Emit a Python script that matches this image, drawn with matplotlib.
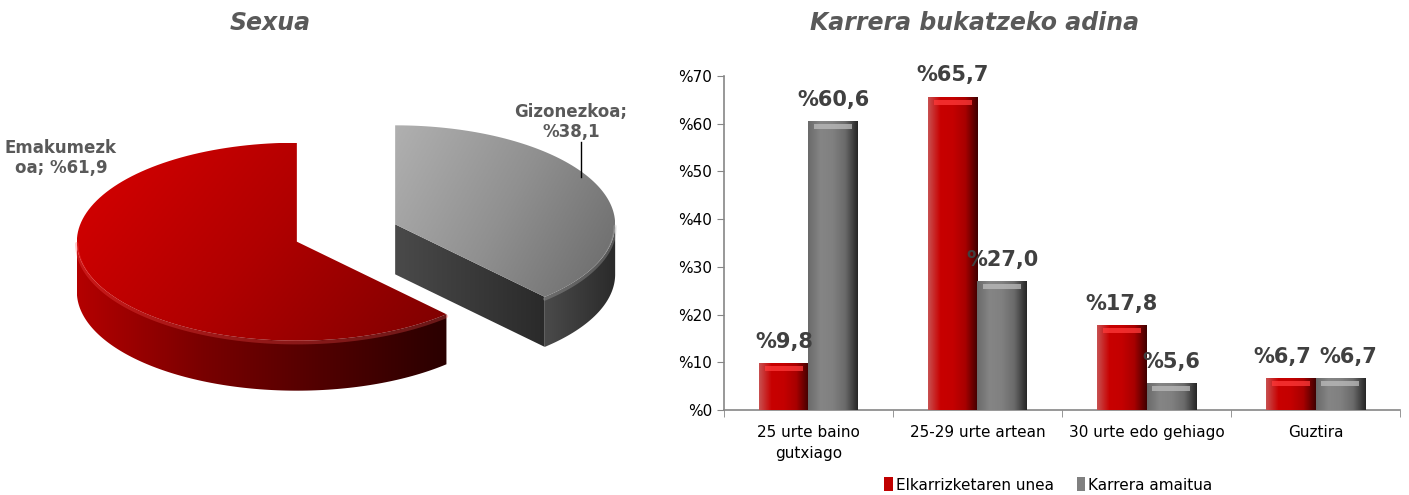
import numpy as np
import matplotlib
matplotlib.use("Agg")
import matplotlib.pyplot as plt
from matplotlib.patches import Polygon, Rectangle
from matplotlib.colors import LinearSegmentedColormap
import textwrap

# ---------------- data ----------------
pie_names = ["Emakumezkoa", "Gizonezkoa"]
pie_values = [61.9, 38.1]
pie_wrap = [9, 11]

bar_categories = ["25 urte baino\ngutxiago", "25-29 urte artean", "30 urte edo gehiago", "Guztira"]
series_names = ["Elkarrizketaren unea", "Karrera amaitua"]
series_interview = [9.8, 65.7, 17.8, 6.7]
series_finished = [60.6, 27.0, 5.6, 6.7]
yticks = [0, 10, 20, 30, 40, 50, 60, 70]

TITLE_COL = "#595959"
LABEL_COL = "#404040"

W, H = 1409, 495
fig = plt.figure(figsize=(W / 100, H / 100), dpi=100)
plt.rcParams['font.family'] = ['DejaVu Sans']


def fmt(v):
    return "%" + f"{v:.1f}".replace(".", ",")


# ---------------- pie (3D look) ----------------
pax = fig.add_axes([0, 0, 650 / W, 1])
pax.set_xlim(0, 650)
pax.set_ylim(H, 0)
pax.axis("off")

base_cx, base_cy = 346, 233
rx, ry = 220, 99
depth = 50
explode = 0.24

top_cmaps = [
    LinearSegmentedColormap.from_list("rt", ["#d80000", "#b00000", "#7e0000"]),
    LinearSegmentedColormap.from_list("gt", ["#b0b0b0", "#909090", "#6a6a6a"]),
]
side_cmaps = [
    LinearSegmentedColormap.from_list("rs", ["#b40000", "#7a0000", "#500000", "#2a0000"]),
    LinearSegmentedColormap.from_list("gs", ["#4a4a4a", "#3a3a3a", "#2a2a2a"]),
]


def pt(cx, cy, ang, dy=0):
    a = np.deg2rad(ang)
    return (cx + rx * np.cos(a), cy - ry * np.sin(a) + dy)


def arc(cx, cy, a0, a1, dy=0, n=120):
    angs = np.linspace(a0, a1, n)
    return [pt(cx, cy, a, dy) for a in angs]


def grad_fill(ax, verts, cmap, direction="diag", z=1):
    poly = Polygon(verts, closed=True, facecolor="none", edgecolor="none", zorder=z)
    ax.add_patch(poly)
    vs = np.array(verts)
    x0, x1 = vs[:, 0].min(), vs[:, 0].max()
    y0, y1 = vs[:, 1].min(), vs[:, 1].max()
    gx = np.linspace(0, 1, 256)
    gy = np.linspace(0, 1, 64)
    X, Y = np.meshgrid(gx, gy)
    if direction == "diag":
        G = 0.7 * X + 0.3 * Y
    else:
        G = X
    im = ax.imshow(G, extent=[x0, x1, y1, y0], cmap=cmap, aspect="auto",
                   interpolation="bilinear", zorder=z, vmin=0, vmax=1)
    im.set_clip_path(poly)
    return poly


total = sum(pie_values)
start = 90.0
wedges = []
for i, v in enumerate(pie_values):
    span = 360.0 * v / total
    a0, a1 = start, start + span
    mid = np.deg2rad((a0 + a1) / 2)
    cx = base_cx + explode * rx * np.cos(mid)
    cy = base_cy - explode * ry * np.sin(mid)
    wedges.append((a0, a1, cx, cy))
    start = a1

# draw back (gray) first then front (red)
order = [1, 0]
for i in order:
    a0, a1, cx, cy = wedges[i]
    for k in range(-1, 2):
        lo, hi = max(a0, 180 + 360 * k), min(a1, 360 + 360 * k)
        if hi > lo:
            top = arc(cx, cy, lo, hi)
            bot = arc(cx, cy, hi, lo, dy=depth)
            grad_fill(pax, top + bot, side_cmaps[i], "h", z=2)
    for edge, nang in ((a0, a0 - 90), (a1, a1 + 90)):
        if np.sin(np.deg2rad(nang)) < -1e-6:
            p = pt(cx, cy, edge)
            verts = [(cx, cy), p, (p[0], p[1] + depth), (cx, cy + depth)]
            grad_fill(pax, verts, side_cmaps[i], "h", z=2)
    verts = [(cx, cy)] + arc(cx, cy, a0, a1)
    grad_fill(pax, verts, top_cmaps[i], "diag", z=3)
    for k in range(-1, 2):
        lo, hi = max(a0, 180 + 360 * k), min(a1, 360 + 360 * k)
        if hi > lo:
            rim = np.array(arc(cx, cy, lo, hi, dy=2))
            pax.plot(rim[:, 0], rim[:, 1], color="#ff5050" if i == 0 else "#bdbdbd",
                     lw=2.5, alpha=0.3, zorder=4, solid_capstyle="round")

# pie labels
lab0 = textwrap.fill(f"{pie_names[0]}; {fmt(pie_values[0])}", pie_wrap[0], break_long_words=True)
lab1 = textwrap.fill(f"{pie_names[1]}; {fmt(pie_values[1])}", pie_wrap[1], break_long_words=True)
pax.text(61, 158, lab0, ha="center", va="center", fontsize=12, fontweight="bold",
         color=TITLE_COL, linespacing=1.2, zorder=5)
pax.text(571, 122, lab1, ha="center", va="center", fontsize=12, fontweight="bold",
         color=TITLE_COL, linespacing=1.2, zorder=5)
pax.plot([581, 581], [142, 177], color="black", lw=1, zorder=5)

fig.text(270 / W, 1 - 23 / H, "Sexua", ha="center", va="center", fontsize=17,
         fontweight="bold", fontstyle="italic", color=TITLE_COL)

# ---------------- bars ----------------
bax = fig.add_axes([724 / W, 1 - 410 / H, (1400 - 724) / W, (410 - 76) / H])
x = np.arange(len(bar_categories))
bw = 0.29
bars_r = bax.bar(x - bw / 2, series_interview, bw, color="#c00000", zorder=2,
                 label=series_names[0])
bars_g = bax.bar(x + bw / 2, series_finished, bw, color="#808080", zorder=2,
                 label=series_names[1])

bar_cmaps = [
    LinearSegmentedColormap.from_list("rb", ["#c85050", "#c80000", "#c40000", "#a80000", "#400000"]),
    LinearSegmentedColormap.from_list("gb", ["#6a6a6a", "#858585", "#808080", "#6a6a6a", "#262626"]),
]
top_cols = ["#ff3a3a", "#bcbcbc"]
ppu = (410 - 76) / 70.0
for bars, cmap, tc in ((bars_r, bar_cmaps[0], top_cols[0]), (bars_g, bar_cmaps[1], top_cols[1])):
    for b in bars:
        bx, by = b.get_x(), b.get_y()
        bw_, bh = b.get_width(), b.get_height()
        G = np.tile(np.linspace(0, 1, 128), (8, 1))
        im = bax.imshow(G, extent=[bx, bx + bw_, by, by + bh], cmap=cmap, aspect="auto",
                        interpolation="bilinear", zorder=3, origin="lower")
        im.set_clip_path(b)
        band_top = by + bh - 3 / ppu
        band_h = min(5 / ppu, bh * 0.3)
        bax.add_patch(Rectangle((bx + bw_ * 0.12, band_top - band_h), bw_ * 0.76, band_h,
                                facecolor=tc, edgecolor="none", alpha=0.75, zorder=4))

bax.set_xlim(-0.5, len(bar_categories) - 0.5)
bax.set_ylim(0, 70)

for j, (rv, gv) in enumerate(zip(series_interview, series_finished)):
    close = abs(rv - gv) < 3
    for b, v, side in ((bars_r[j], rv, -1), (bars_g[j], gv, 1)):
        dx = side * 6 if close else 0
        bax.annotate(fmt(v), (b.get_x() + b.get_width() / 2, b.get_height()),
                     xytext=(dx, 8), textcoords="offset points", ha="center", va="bottom",
                     fontsize=15, fontweight="bold", color=LABEL_COL, zorder=5,
                     annotation_clip=False)

for s in ("top", "right"):
    bax.spines[s].set_visible(False)
for s in ("left", "bottom"):
    bax.spines[s].set_color("#868686")
    bax.spines[s].set_linewidth(1.2)
bax.set_yticks(yticks)
bax.set_yticklabels(["%" + str(t) for t in yticks])
bax.set_xticks(x)
bax.set_xticklabels(bar_categories)
for lbl in bax.get_xticklabels():
    lbl.set_linespacing(1.45)
bax.set_xticks(np.arange(-0.5, len(bar_categories)), minor=True)
bax.tick_params(axis="x", which="major", length=0, pad=11, labelsize=11, colors="black")
bax.tick_params(axis="x", which="minor", length=5, color="#868686")
bax.tick_params(axis="y", length=5, color="#868686", labelsize=11, labelcolor="black")

leg = bax.legend(loc="center", bbox_to_anchor=(0.48, -(485 - 410) / (410 - 76)), ncol=2,
                 frameon=False, fontsize=11, handlelength=0.55, handleheight=1.0,
                 handletextpad=0.2, columnspacing=1.5)

fig.text(975 / W, 1 - 23 / H, "Karrera bukatzeko adina", ha="center", va="center",
         fontsize=17, fontweight="bold", fontstyle="italic", color=TITLE_COL)

fig.savefig("out.png", dpi=100)
